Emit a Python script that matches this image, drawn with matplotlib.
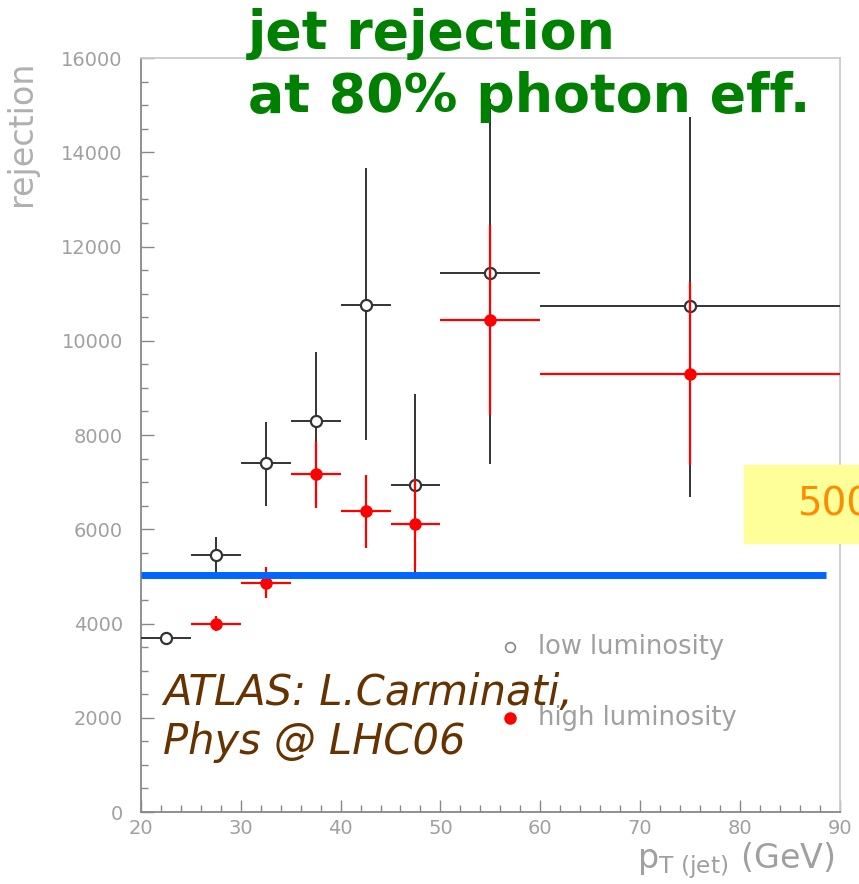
"""Jet rejection vs jet pT at 80% photon efficiency, low and high luminosity."""

import matplotlib.pyplot as plt
from matplotlib.patches import Rectangle
from matplotlib.ticker import MultipleLocator

# bin edges and rejection values (low luminosity)
low_lo = [20, 25, 30, 35, 40, 45, 50, 60]
low_hi = [25, 30, 35, 40, 45, 50, 60, 90]
low_rej = [3700, 5450, 7400, 8300, 10770, 6950, 11430, 10730]
low_err_dn = [120, 380, 900, 1480, 2870, 1900, 4050, 4050]
low_err_up = [120, 380, 880, 1470, 2900, 1930, 3700, 4030]

# high luminosity
high_lo = [25, 30, 35, 40, 45, 50, 60]
high_hi = [30, 35, 40, 45, 50, 60, 90]
high_rej = [4000, 4870, 7170, 6380, 6120, 10450, 9300]
high_err_dn = [150, 330, 720, 780, 1000, 2030, 1930]
high_err_up = [150, 320, 700, 780, 950, 2000, 1950]

threshold = 5020


def centers(lo, hi):
    return [(a + b) / 2 for a, b in zip(lo, hi)]


def half_widths(lo, hi):
    return [(b - a) / 2 for a, b in zip(lo, hi)]


W, H = 859, 884
fig = plt.figure(figsize=(W / 100, H / 100), dpi=100)
ax = fig.add_axes([0.164, 0.0814, 0.8137, 0.8529])

ax.errorbar(centers(low_lo, low_hi), low_rej,
            xerr=half_widths(low_lo, low_hi), yerr=[low_err_dn, low_err_up],
            fmt="o", ms=8, mfc="white", mec="#333333", mew=1.6,
            ecolor="#333333", elinewidth=1.4, capsize=0, zorder=3)
ax.errorbar(centers(high_lo, high_hi), high_rej,
            xerr=half_widths(high_lo, high_hi), yerr=[high_err_dn, high_err_up],
            fmt="o", ms=8, mfc="red", mec="red",
            ecolor="red", elinewidth=1.6, capsize=0, zorder=4)

ax.plot([20, 88.6], [threshold, threshold], color="#0066ff", lw=5, zorder=5,
        solid_capstyle="butt")

ax.set_xlim(20, 90)
ax.set_ylim(0, 16000)
ax.xaxis.set_major_locator(MultipleLocator(10))
ax.xaxis.set_minor_locator(MultipleLocator(2))
ax.yaxis.set_major_locator(MultipleLocator(2000))
ax.yaxis.set_minor_locator(MultipleLocator(500))
ax.tick_params(which="both", direction="in", colors="#888888", labelcolor="#a0a0a0",
               labelsize=14)
ax.tick_params(which="major", length=9, width=1)
ax.tick_params(which="minor", length=5, width=1)
ax.tick_params(axis="x", which="major", pad=5)
ax.tick_params(axis="y", which="major", pad=13)
ax.tick_params(axis="both", top=False, right=False)

for side in ("left", "bottom"):
    ax.spines[side].set_color("#888888")
    ax.spines[side].set_linewidth(1.3)
for side in ("top", "right"):
    ax.spines[side].set_color("#cccccc")
    ax.spines[side].set_linewidth(1.3)

ax.set_ylabel("rejection", fontsize=24, color="#b0b0b0")
ax.yaxis.set_label_coords(-0.147, 0.9)
fig.text(0.972, 0.018, r"$\mathregular{p_{T\ (jet)}}$ (GeV)", fontsize=24,
         color="#a0a0a0", ha="right", va="baseline")

# legend drawn by hand
ax.plot(57.0, 3500, "o", ms=7, mfc="white", mec="#888888", mew=1.2)
ax.plot(57.0, 2000, "o", ms=8, color="red")
ax.text(59.8, 3500, "low luminosity", fontsize=18.5, color="#a0a0a0", va="center")
ax.text(59.8, 2000, "high luminosity", fontsize=18.5, color="#a0a0a0", va="center")

title_lines = ["jet rejection", "at 80% photon eff."]
for line, base in zip(title_lines, [49, 112]):
    fig.text(248 / W, 1 - base / H, line, fontsize=38.7, fontweight="bold",
             color="#008000", ha="left", va="baseline")

credit_lines = ["ATLAS: L.Carminati,", "Phys @ LHC06"]
for line, base in zip(credit_lines, [705, 754]):
    fig.text(163 / W, 1 - base / H, line, fontsize=30, style="italic",
             color="#663300", ha="left", va="baseline")

fig.patches.append(Rectangle((744 / W, 1 - 543 / H), 0.2, 78 / H,
                             transform=fig.transFigure, color="#ffff99", zorder=6))
fig.text(797 / W, 1 - 504 / H, "5000", fontsize=28, color="#ff8c00",
         ha="left", va="center", zorder=7)

fig.savefig("out.png", dpi=100)
